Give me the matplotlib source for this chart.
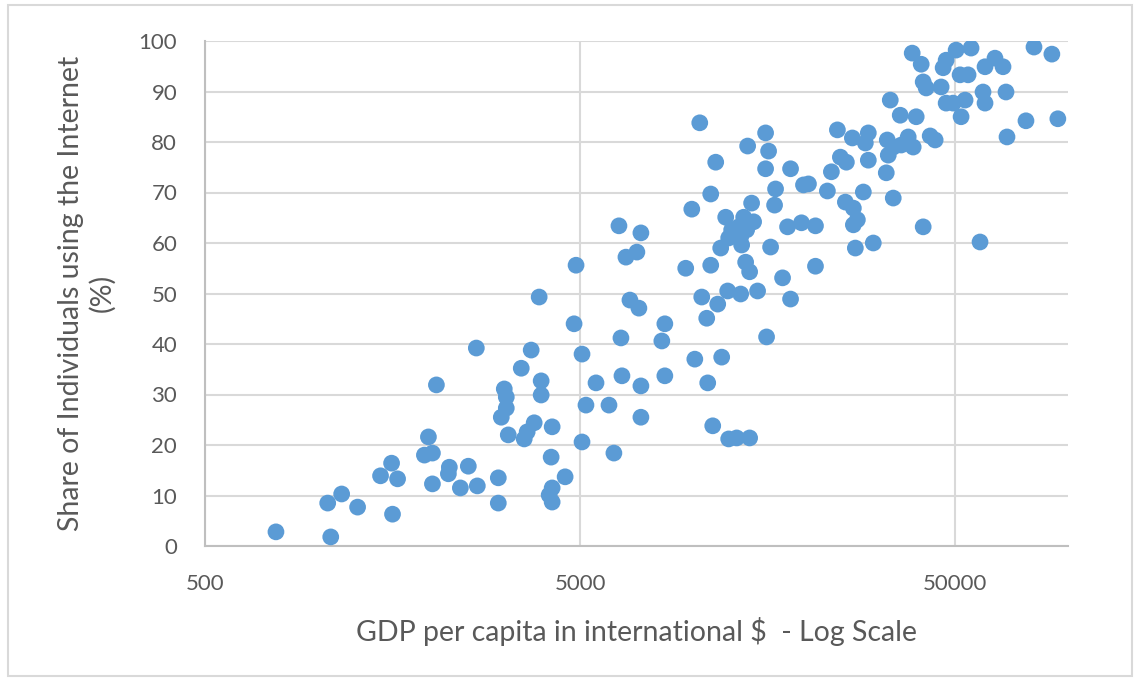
import matplotlib
matplotlib.use("Agg")
import matplotlib.pyplot as plt
from matplotlib.patches import Rectangle

plt.rcParams['font.family'] = ['Lato', 'DejaVu Sans']

gdp_per_capita = [
    773, 1082, 1062, 1157, 1276, 1469, 1572, 1631, 1581, 1923,
    1971, 2020, 2020, 2070, 2241, 2228, 2518, 2398, 2661, 2645,
    3027, 3027, 3140, 3179, 3179, 3083, 3218, 3485, 3938, 3938,
    3549, 3614, 3773, 4213, 3890, 3704, 4187, 4562, 4213, 4136,
    4213, 4879, 4820, 5061, 5061, 5185, 5515, 5972, 6155, 6349,
    6427, 6467, 6627, 7088, 6792, 7176, 7265, 7265, 7265, 8261,
    8415, 8415, 9566, 9929, 10115, 10427, 10555, 10883, 10949, 11153,
    11153, 11291, 11500, 11642, 11857, 11930, 12227, 12377, 12453, 13080,
    14162, 12683, 13242, 13904, 12453, 13403, 13485, 13654, 14512, 14335,
    13820, 14162, 13403, 13990, 14871, 15620, 15910, 15620, 16107, 15714,
    16506, 16606, 17335, 17875, 18207, 18207, 19711, 20322, 19470, 21217,
    21217, 22828, 23394, 24275, 24722, 25649, 25492, 26611, 26774, 27439,
    26774, 27102, 28464, 28814, 29348, 29348, 30258, 32768, 32971, 33173,
    33582, 34203, 34203, 35699, 35918, 37494, 38658, 39379, 38421, 40606,
    41103, 41870, 41103, 42906, 44237, 45893, 46458, 47323, 47323, 49393,
    50311, 51554, 51871, 53157, 54147, 55153, 58268, 59352, 60084, 60084,
    63876, 67103, 68344, 68763, 77256, 81156, 90570, 93957,
]

internet_share = [
    2.8, 1.8, 8.5, 10.3, 7.7, 13.9, 16.4, 13.3, 6.3, 18.0,
    21.6, 18.4, 12.3, 31.9, 15.6, 14.3, 15.8, 11.5, 11.9, 39.2,
    13.5, 8.5, 31.1, 29.5, 27.3, 25.5, 22.0, 35.2, 32.7, 29.9,
    21.2, 22.6, 24.4, 23.6, 49.3, 38.8, 17.6, 13.7, 11.5, 10.1,
    8.7, 55.6, 44.0, 38.0, 20.6, 27.9, 32.3, 27.9, 18.4, 63.4,
    41.2, 33.7, 57.2, 58.2, 48.7, 47.1, 62.0, 31.7, 25.5, 40.6,
    44.0, 33.7, 55.0, 66.7, 37.0, 83.8, 49.3, 45.1, 32.3, 55.6,
    69.7, 23.8, 76.0, 47.9, 59.0, 37.4, 65.1, 50.5, 21.2, 21.4,
    21.4, 62.6, 63.2, 62.6, 61.0, 61.2, 59.6, 65.1, 64.2, 67.9,
    56.2, 54.3, 49.9, 79.2, 50.5, 81.8, 78.2, 74.7, 59.2, 41.4,
    67.5, 70.7, 53.1, 63.2, 74.7, 48.9, 71.5, 71.7, 64.0, 63.4,
    55.4, 70.3, 74.1, 82.4, 77.0, 76.0, 68.1, 80.8, 66.9, 64.6,
    63.6, 59.0, 70.1, 79.8, 81.8, 76.4, 60.0, 73.9, 80.4, 77.4,
    88.3, 79.0, 68.9, 85.3, 79.4, 81.0, 79.0, 85.0, 97.6, 95.4,
    91.9, 90.7, 63.2, 81.2, 80.4, 90.9, 94.7, 96.2, 87.7, 87.7,
    98.2, 93.3, 85.0, 88.3, 93.3, 98.6, 60.2, 89.9, 87.7, 94.9,
    96.6, 94.9, 89.9, 81.0, 84.2, 98.8, 97.4, 84.6,
]

x_ticks = [500, 5000, 50000]
x_tick_labels = ["500", "5000", "50000"]
y_ticks = [0, 10, 20, 30, 40, 50, 60, 70, 80, 90, 100]

W, H = 1137, 680
fig = plt.figure(figsize=(W / 100, H / 100), dpi=100)
fig.patch.set_facecolor("white")

# outer light frame
fig.patches.append(Rectangle((8 / W, 4 / H), 1124 / W, 671 / H, transform=fig.transFigure,
                             fill=False, edgecolor="#d9d9d9", linewidth=1.5))

ax = fig.add_axes([205 / W, 1 - 546 / H, 863 / W, 505 / H])
ax.scatter(gdp_per_capita, internet_share, s=145, color="#5B9BD5", edgecolors="none", zorder=3)

ax.set_xscale("log")
ax.set_xlim(500, 100000)
ax.set_ylim(0, 100)
ax.set_xticks(x_ticks)
ax.set_xticklabels(x_tick_labels)
ax.xaxis.set_minor_locator(matplotlib.ticker.NullLocator())
ax.set_yticks(y_ticks)

ax.grid(True, which="major", color="#d9d9d9", linewidth=1.5, zorder=0)
ax.set_axisbelow(True)
for side in ["top", "right"]:
    ax.spines[side].set_visible(False)
for side in ["left", "bottom"]:
    ax.spines[side].set_color("#bfbfbf")
    ax.spines[side].set_linewidth(1.5)

ax.tick_params(axis="both", length=0, labelsize=16, colors="#595959")
ax.tick_params(axis="y", pad=20)
ax.tick_params(axis="x", pad=20)

fig.text(87 / W, 1 - 293 / H, "Share of Individuals using the Internet\n(%)",
         rotation=90, ha="center", va="center", multialignment="center",
         fontsize=20.5, color="#595959", linespacing=1.2)
fig.text(636 / W, 1 - 632 / H, "GDP per capita in international $  - Log Scale",
         ha="center", va="center", fontsize=20.5, color="#595959")

fig.savefig("out.png", dpi=100, facecolor="white")
